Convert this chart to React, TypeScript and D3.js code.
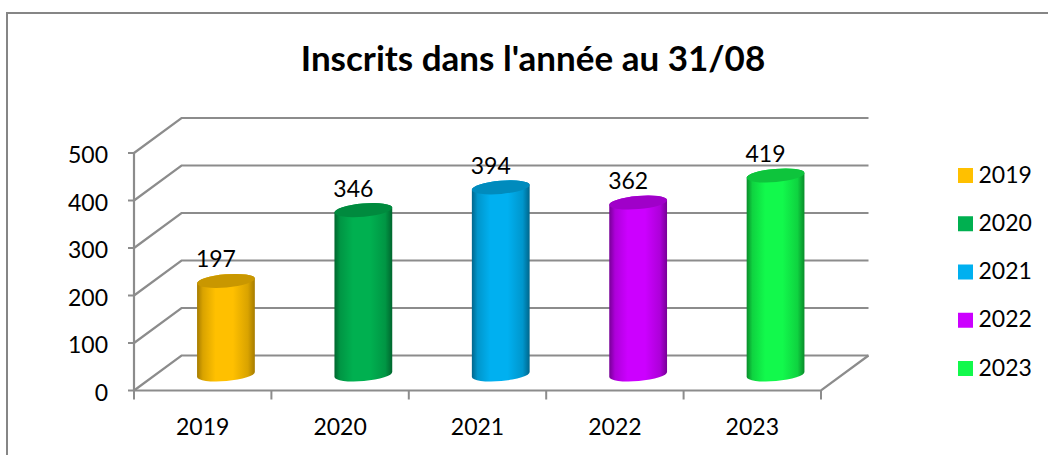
import React from "react";
import * as d3 from "d3";

const categories = ["2019", "2020", "2021", "2022", "2023"];
const values = [197, 346, 394, 362, 419];
const yTicks = [0, 100, 200, 300, 400, 500];
const colors = ["#FFC000", "#00B050", "#00B0F0", "#CC00FF", "#12F94C"];
const darkColors = ["#D9A300", "#009644", "#0096CC", "#AD00D9", "#0FD340"];
const capColors = ["#C99700", "#008A3E", "#008BBD", "#A000C9", "#0EC43C"];
const edgeColors = ["#A67C00", "#00662E", "#00668C", "#770096", "#0A8C2B"];
const title = "Inscrits dans l'année au 31/08";

const FONT = "Lato, Carlito, 'Open Sans', sans-serif";
const depthX = 47.5;
const depthY = -35;
const baseLift = 16;
const rx = 29;
const ry = 6.6;
const tilt = -5;

const y = d3.scaleLinear().domain([0, 500]).range([390.5, 153]);
const x = d3.scaleBand<string>().domain(categories).range([134, 821]);

export default function App() {
  const tiltRad = (tilt * Math.PI) / 180;
  const dx = rx * Math.cos(tiltRad);
  const dy = rx * Math.sin(tiltRad);
  const step = x.step();
  return (
    <svg
      width={1048}
      height={455}
      style={{ position: "absolute", left: 0, top: 0, background: "#fff" }}
      fontFamily={FONT}
    >
      <defs>
        {categories.map((c, i) => (
          <linearGradient key={c} id={`g${c}`} x1="0" x2="1" y1="0" y2="0">
            <stop offset="0" stopColor={edgeColors[i]} />
            <stop offset="0.1" stopColor={darkColors[i]} />
            <stop offset="0.32" stopColor={colors[i]} />
            <stop offset="0.62" stopColor={colors[i]} />
            <stop offset="0.88" stopColor={darkColors[i]} />
            <stop offset="1" stopColor={edgeColors[i]} />
          </linearGradient>
        ))}
      </defs>

      <path d="M7,455 V13 H1048" fill="none" stroke="#868686" strokeWidth={2} />

      <text x={533} y={70.5} textAnchor="middle" fontSize={35} fontWeight={700} fill="#000">
        {title}
      </text>

      {/* walls and floor */}
      {yTicks.map((t) => (
        <path
          key={t}
          d={`M${x.range()[0]},${y(t)} l${depthX},${depthY} H${x.range()[1] + depthX}`}
          fill="none"
          stroke="#8c8c8c"
          strokeWidth={2.2}
        />
      ))}
      <path
        d={`M${x.range()[0]},${y(0)} H${x.range()[1]} l${depthX},${depthY}`}
        fill="none"
        stroke="#8c8c8c"
        strokeWidth={2.2}
      />
      <path
        d={`M${x.range()[0]},${y(500)} V${y(0)}`}
        fill="none"
        stroke="#8c8c8c"
        strokeWidth={2.2}
      />

      {/* axis ticks */}
      {yTicks.map((t) => (
        <g key={t}>
          <line x1={128} x2={134} y1={y(t)} y2={y(t)} stroke="#8c8c8c" strokeWidth={2} />
          <text x={108} y={y(t) + 10} textAnchor="end" fontSize={23} fill="#000">
            {t}
          </text>
        </g>
      ))}
      {[...categories.map((c) => x(c) as number), x.range()[1]].map((p, i) => (
        <line key={i} x1={p} x2={p} y1={y(0)} y2={y(0) + 9} stroke="#8c8c8c" strokeWidth={2} />
      ))}
      {categories.map((c) => (
        <text
          key={c}
          x={(x(c) as number) + step / 2}
          y={435}
          textAnchor="middle"
          fontSize={23}
          fill="#000"
        >
          {c}
        </text>
      ))}

      {/* cylinders */}
      {categories.map((c, i) => {
        const cx = (x(c) as number) + step / 2 + depthX / 2 - 0.5;
        const yb = y(0) - baseLift;
        const yt = y(values[i]) - baseLift;
        const body =
          `M${cx - dx},${yt - dy} L${cx - dx},${yb - dy} ` +
          `A${rx},${ry} ${tilt} 0 0 ${cx + dx},${yb + dy} ` +
          `L${cx + dx},${yt + dy} A${rx},${ry} ${tilt} 0 0 ${cx - dx},${yt - dy} Z`;
        return (
          <g key={c}>
            <path d={body} fill={`url(#g${c})`} />
            <ellipse
              cx={cx}
              cy={yt}
              rx={rx}
              ry={ry}
              transform={`rotate(${tilt} ${cx} ${yt})`}
              fill={capColors[i]}
            />
            <text x={cx - 10} y={yt - 13.5} textAnchor="middle" fontSize={23} fill="#000">
              {values[i]}
            </text>
          </g>
        );
      })}

      {/* legend */}
      {categories.map((c, i) => {
        const ly = d3.scalePoint<string>().domain(categories).range([175.5, 368.5])(c) as number;
        return (
          <g key={c}>
            <rect x={958} y={ly - 7.5} width={15} height={15} fill={colors[i]} />
            <text x={978.5} y={ly + 7} fontSize={23} fill="#000">
              {c}
            </text>
          </g>
        );
      })}
    </svg>
  );
}
